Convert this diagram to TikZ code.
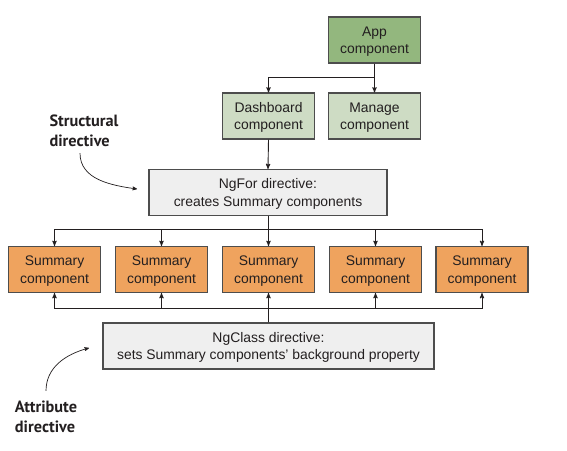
\documentclass[tikz,border=0pt]{standalone}
\usepackage{fontspec}
\setmainfont{Liberation Sans}
\newfontfamily\labelfont{PT Sans}
\usetikzlibrary{%
  arrows,%
  positioning,%
  calc%
}
\definecolor{appgreen}{RGB}{147,183,126}
\definecolor{compgreen}{RGB}{206,220,196}
\definecolor{summorange}{RGB}{239,163,94}
\definecolor{dirgray}{RGB}{239,239,239}
\definecolor{edgegray}{RGB}{77,77,77}
\definecolor{textdark}{RGB}{35,31,32}

\begin{document}
\begin{tikzpicture}
[x=1pt, y=-1pt, font=\fontsize{13.9}{17.5}\selectfont, line width=0.9pt, >=stealth',
comp/.style={rectangle, draw=edgegray, line width=1.1pt, inner sep=0pt, minimum width=92pt, minimum height=46pt, align=center, text depth=0pt, text=textdark},
app/.style={comp, fill=appgreen},
child/.style={comp, fill=compgreen},
summary/.style={comp, fill=summorange},
directive/.style={comp, fill=dirgray},
link/.style={draw=textdark, line width=0.9pt},
callout/.style={font=\labelfont\bfseries\fontsize{16.3}{19.5}\selectfont, align=left, text=textdark, inner sep=0pt}]

\useasboundingbox (0,0) rectangle (567,450);

\node[app] (app) at (374.5,40) {App\\component};
\node[child] (dash) at (268.5,116) {Dashboard\\component};
\node[child] (manage) at (374.5,116) {Manage\\component};

\node[directive, minimum width=238pt] (ngfor) at (268,192.5) {NgFor directive:\\creates Summary components};

\foreach \i/\x in {1/54.5, 2/161.5, 3/268.5, 4/375.5, 5/482} {
  \node[summary] (sum\i) at (\x,269.5) {Summary\\component};
}

\node[directive, minimum width=331pt] (ngclass) at (268.5,346) {NgClass directive:\\sets Summary components' background property};

\draw[link,->] (app.south) -- ++(0,14) -| (dash.north);
\draw[link,->] (app.south) -- (manage.north);
\draw[link,->] (dash.south) -- (ngfor.north);

\foreach \i in {1,...,5} {
  \draw[link,->] (ngfor.south) -- ++(0,13.5) -| (sum\i.north);
  \draw[link,->] (ngclass.north) -- ++(0,-14) -| (sum\i.south);
}

\node[callout] (structural) at (84,131) {Structural\\directive};
\node[callout] (attribute) at (46,417) {Attribute\\directive};

\coordinate (structtip) at (137,189);
\coordinate (attrtip) at (89,348);

\draw[link,->,line width=0.7pt] ([xshift=-4pt,yshift=-6pt]structural.south) to[out=-90,in=172] (structtip);
\draw[link,->,line width=0.7pt] ([yshift=10pt]attribute.north) to[out=90,in=195] (attrtip);
\end{tikzpicture}
\end{document}
